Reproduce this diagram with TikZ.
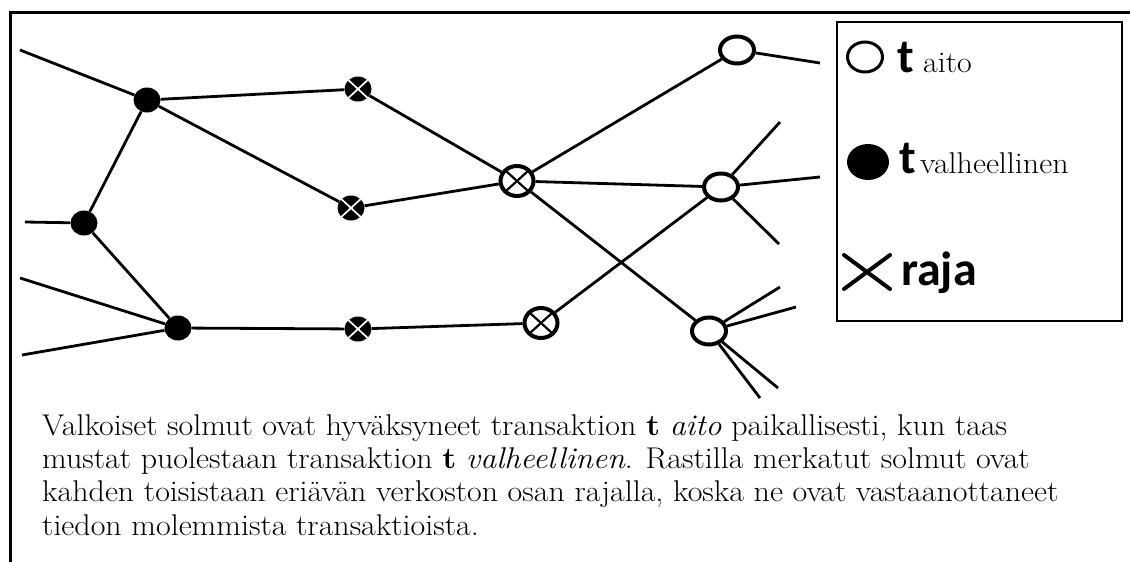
\documentclass[tikz,border=0pt]{standalone}
\usepackage{graphicx}
\usepackage{fontspec}
\newfontfamily\legendsans{Carlito}
\usetikzlibrary{shapes.geometric,shapes.misc}

% slightly widened serif text
\newcommand{\widetext}[1]{\scalebox{1.065}[1]{#1}}

\tikzset{
  edge/.style={line width=2.8},
  fnode/.style={ellipse, fill=black, inner sep=0, minimum width=27, minimum height=25},
  xnode/.style={fnode, path picture={
      \draw[white, line width=1.7]
        (path picture bounding box.north west) -- (path picture bounding box.south east)
        (path picture bounding box.south west) -- (path picture bounding box.north east);}},
  anode/.style={ellipse, draw, fill=white, line width=4, inner sep=0,
      minimum width=34, minimum height=27},
  cnode/.style={anode, minimum width=33, minimum height=30, path picture={
      \draw[black, line width=2.2]
        (path picture bounding box.north west) -- (path picture bounding box.south east)
        (path picture bounding box.south west) -- (path picture bounding box.north east);}},
  bodytext/.style={anchor=base west, inner sep=0, font=\fontsize{30}{33}\selectfont},
  bigt/.style={anchor=base west, inner sep=0, font=\legendsans\bfseries\fontsize{48}{48}\selectfont},
  legtext/.style={anchor=base west, inner sep=0, font=\fontsize{30}{30}\selectfont},
}

\begin{document}
\begin{tikzpicture}[x=1pt, y=-1pt]
\useasboundingbox (0,0) rectangle (1130,562);

% page frame
\draw[line width=3] (10,562) -- (10,12) -- (1130,12);

% network nodes
\node[fnode] (f1) at (147,100) {};
\node[fnode] (f2) at (84,223) {};
\node[fnode] (f3) at (178,328) {};
\node[xnode] (x1) at (358,89) {};
\node[xnode] (x2) at (351,208) {};
\node[xnode] (x3) at (358,329) {};
\node[cnode] (c1) at (517,181) {};
\node[cnode] (c2) at (541,323) {};
\node[anode] (w1) at (737,50) {};
\node[anode] (w2) at (721,187) {};
\node[anode] (w3) at (709,331) {};

% loose ends of the network
\coordinate (a1) at (20,50);
\coordinate (a2) at (25,222);
\coordinate (a3) at (20,278);
\coordinate (a4) at (22,355);
\coordinate (e1) at (820,63);
\coordinate (e2) at (780,122);
\coordinate (e3) at (820,177);
\coordinate (e4) at (779,244);
\coordinate (e5) at (780,287);
\coordinate (e6) at (796,307);
\coordinate (e7) at (778,388);
\coordinate (e8) at (760,398);

% links
\draw[edge] (a1) -- (f1);
\draw[edge] (a2) -- (f2);
\draw[edge] (a3) -- (f3);
\draw[edge] (a4) -- (f3);
\draw[edge] (f1) -- (f2);
\draw[edge] (f2) -- (f3);
\draw[edge] (f1) -- (x1);
\draw[edge] (f1) -- (x2);
\draw[edge] (f3) -- (x3);
\draw[edge] (x1) -- (c1);
\draw[edge] (x2) -- (c1);
\draw[edge] (x3) -- (c2);
\draw[edge] (c1) -- (w1);
\draw[edge] (c1) -- (w2);
\draw[edge] (c1) -- (w3);
\draw[edge] (c2) -- (w2);
\draw[edge] (w1) -- (e1);
\draw[edge] (w2) -- (e2);
\draw[edge] (w2) -- (e3);
\draw[edge] (w2) -- (e4);
\draw[edge] (w3) -- (e5);
\draw[edge] (w3) -- (e6);
\draw[edge] (w3) -- (e7);
\draw[edge] (w3) -- (e8);

% legend
\node[draw, line width=2.8, minimum width=285, minimum height=299, inner sep=0] (legend) at (979.5,171.5) {};
\node[anode, line width=3, minimum width=35, minimum height=30] (la) at (865,57) {};
\node[bigt] (lt1) at (897,72) {t};
\node[legtext] (ls1) at (923,72) {\widetext{aito}};
\node[fnode, minimum width=42, minimum height=36] (lf) at (868,162) {};
\node[bigt] (lt2) at (899,173) {t};
\node[legtext] (ls2) at (920,173) {\widetext{valheellinen}};
\node[cross out, draw, line width=4, line cap=round, inner sep=0, minimum width=42, minimum height=30] (lx) at (867,272) {};
\node[bigt] (lr) at (901,285) {raja};

% caption
\node[bodytext] (t1) at (42,435) {\widetext{Valkoiset solmut ovat hyväksyneet transaktion \textbf{t} \textit{aito} paikallisesti, kun taas}};
\node[bodytext] (t2) at (42,468) {\widetext{mustat puolestaan transaktion \textbf{t} \textit{valheellinen}. Rastilla merkatut solmut ovat}};
\node[bodytext] (t3) at (42,501.5) {\widetext{kahden toisistaan eriävän verkoston osan rajalla, koska ne ovat vastaanottaneet}};
\node[bodytext] (t4) at (42,535) {\widetext{tiedon molemmista transaktioista.}};
\end{tikzpicture}
\end{document}
